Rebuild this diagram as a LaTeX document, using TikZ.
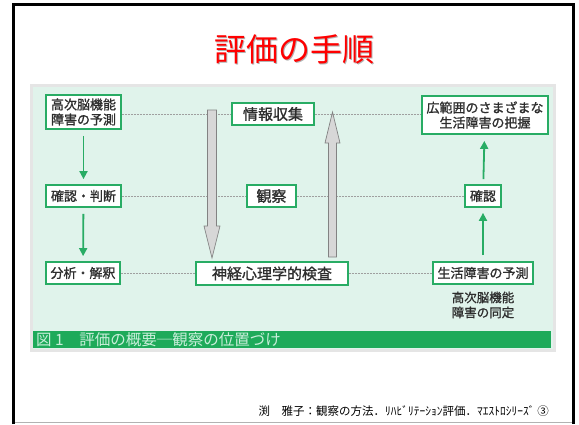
\documentclass[tikz,border=0pt]{standalone}
\usepackage{fontspec}
\setmainfont{Noto Sans CJK JP}
\newfontfamily\jpbold{Noto Sans CJK JP}[FakeBold=1.2]
\usetikzlibrary{arrows.meta}
\definecolor{mint}{RGB}{224,243,235}
\definecolor{gline}{RGB}{40,172,100}
\definecolor{gbar}{RGB}{30,170,90}
\definecolor{captxt}{RGB}{200,238,218}
\definecolor{txt}{RGB}{45,45,45}
\definecolor{arrfill}{RGB}{215,215,215}
\definecolor{arrline}{RGB}{130,130,130}
\begin{document}
\begin{tikzpicture}[x=1pt,y=-1pt,
 gbox/.style={draw=gline,line width=1.8pt,fill=white,text=txt,inner sep=0pt,font=\jpbold\fontsize{13}{15}\selectfont,align=center},
 bigtext/.style={font=\jpbold\fontsize{15}{17}\selectfont},
 dotline/.style={draw=gray!75,line width=0.6pt,dash pattern=on 1.6pt off 1.4pt},
 garrow/.style={draw=gline,line width=1.8pt,-{Triangle[length=8pt,width=8pt]}},
 bigarrow/.style={fill=arrfill,draw=arrline,line width=0.7pt}]
\useasboundingbox (0,0) rectangle (579,424);
\fill[white] (0,0) rectangle (579,424);
% frame
\draw[gray!60,line width=1pt] (13,422) -- (573,422);
\draw[black,line width=3pt] (13,424) -- (13,4.5) -- (573.5,4.5) -- (573.5,424);
% title
\node[text=black!30,font=\fontsize{32}{35}\selectfont] (tshadow) at (295.5,50.5) {評価の手順};
\node[text=red,font=\fontsize{32}{35}\selectfont] (title) at (294,49) {評価の手順};
% panel
\fill[gray!20] (30,84) rectangle (556,352);
\fill[mint] (33,87) rectangle (553,349);
\fill[gbar] (33,331) rectangle (551,348);
\node[anchor=west,text=captxt,font=\fontsize{15.5}{17}\selectfont,inner sep=0pt] (cap) at (36,340) {図 1　評価の概要─観察の位置づけ};
% nodes (positions, invisible pass for connector anchors)
\path
 (83.5,112) node[gbox,minimum width=75,minimum height=34] (a1) {高次脳機能\\障害の予測}
 (83.5,196) node[gbox,minimum width=75,minimum height=22] (a2) {確認・判断}
 (83,273) node[gbox,minimum width=74,minimum height=22] (a3) {分析・解釈}
 (273,114) node[gbox,bigtext,minimum width=82,minimum height=22] (b1) {情報収集}
 (271.5,196) node[gbox,bigtext,minimum width=49,minimum height=22] (b2) {観察}
 (272,273.5) node[gbox,bigtext,minimum width=152,minimum height=23] (b3) {神経心理学的検査}
 (485,115) node[gbox,minimum width=126,minimum height=38] (c1) {広範囲のさまざまな\\生活障害の把握}
 (483,196) node[gbox,minimum width=36,minimum height=22] (c2) {確認}
 (483,273) node[gbox,minimum width=100,minimum height=22] (c3) {生活障害の予測};
% dotted lines
\draw[dotline] (a1.east |- b1.west) -- (b1.west);
\draw[dotline] (b1.east) -- (c1.west |- b1.east);
\draw[dotline] (a2.east) -- (b2.west);
\draw[dotline] (b2.east) -- (c2.west);
\draw[dotline] (a3.east) -- (b3.west |- a3.east);
\draw[dotline] (b3.east |- c3.west) -- (c3.west);
% big gray arrows
\draw[bigarrow] (207.5,110) -- (216.5,110) -- (216.5,226) -- (220,226) -- (212,258) -- (204,226) -- (207.5,226) -- cycle;
\draw[bigarrow] (328.5,257) -- (336.5,257) -- (336.5,143) -- (340,143) -- (332.5,112) -- (325,143) -- (328.5,143) -- cycle;
% boxes drawn on top of the lines
\path
 (83.5,112) node[gbox,minimum width=75,minimum height=34] {高次脳機能\\障害の予測}
 (83.5,196) node[gbox,minimum width=75,minimum height=22] {確認・判断}
 (83,273) node[gbox,minimum width=74,minimum height=22] {分析・解釈}
 (273,114) node[gbox,bigtext,minimum width=82,minimum height=22] {情報収集}
 (271.5,196) node[gbox,bigtext,minimum width=49,minimum height=22] {観察}
 (272,273.5) node[gbox,bigtext,minimum width=152,minimum height=23] {神経心理学的検査}
 (485,115) node[gbox,minimum width=126,minimum height=38] {広範囲のさまざまな\\生活障害の把握}
 (483,196) node[gbox,minimum width=36,minimum height=22] {確認}
 (483,273) node[gbox,minimum width=100,minimum height=22] {生活障害の予測};
\node[text=txt,font=\jpbold\fontsize{12.5}{15}\selectfont,align=center] (c4) at (483,305) {高次脳機能\\障害の同定};
% green arrows
\draw[garrow,shorten <=6pt,shorten >=5pt] (a1) -- (a2);
\draw[garrow,shorten <=6pt,shorten >=5pt] (a2) -- (a3);
\draw[garrow,shorten <=6pt,shorten >=5pt] (c3) -- (c2);
\draw[garrow,shorten <=5pt,shorten >=6pt] (c2) -- (c1);
% source
\node[anchor=east,text=black,font=\fontsize{11.5}{13}\selectfont,inner sep=0pt] (src) at (549,411) {渕　雅子：観察の方法．ﾘﾊﾋﾞﾘﾃｰｼｮﾝ評価．ﾏｴｽﾄﾛｼﾘｰｽﾞ ③};
\end{tikzpicture}
\end{document}
